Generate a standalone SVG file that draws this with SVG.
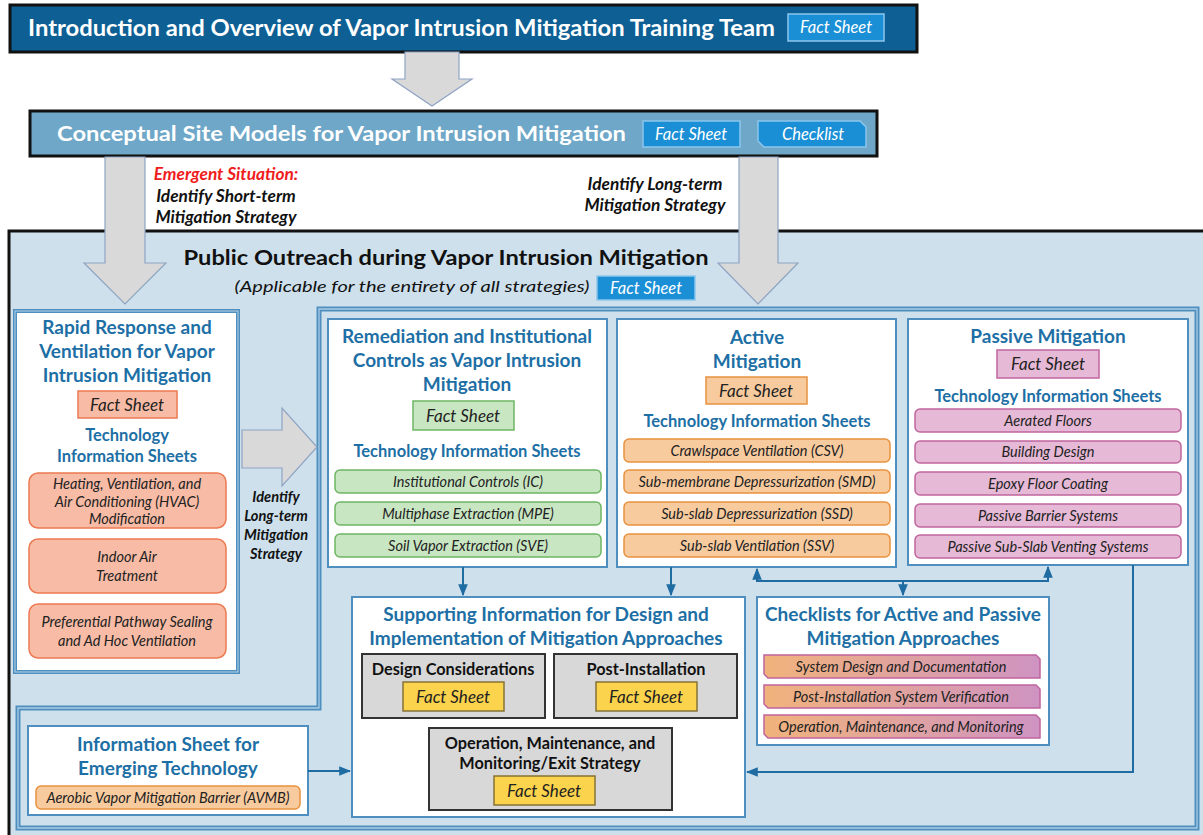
<svg xmlns="http://www.w3.org/2000/svg" width="1203" height="835" viewBox="0 0 1203 835">
<defs>
<style>
text{font-family:Lato,"Liberation Sans",sans-serif}
.hdr{font-weight:bold;fill:#fff}
.btn{fill:#1a8fd6;stroke:#8cc6ec;stroke-width:1.5}
.btnt{font-style:italic;fill:#fff;font-size:16.5px;text-anchor:middle}
.garrow{fill:#d9d9d9;stroke:#8fa3c3;stroke-width:1.2}
.lbl{font-weight:bold;font-style:italic;font-size:14.6px;fill:#111;text-anchor:middle}
.lbl2{font-weight:bold;font-style:italic;font-size:17.3px;fill:#111;text-anchor:middle}
.box{fill:#fff;stroke:#4f8fc0;stroke-width:2}
.ttl{font-weight:bold;fill:#1d6fa5;font-size:19px;text-anchor:middle}
.sub{font-weight:bold;fill:#1d6fa5;font-size:16.5px;text-anchor:middle}
.it{font-style:italic;fill:#222;font-size:14.5px;text-anchor:middle}
.fs{font-style:italic;fill:#222;font-size:17px;text-anchor:middle}
.red{fill:#f8bba5;stroke:#ec7a52;stroke-width:1.5}
.grn{fill:#c9e6c2;stroke:#6db664;stroke-width:1.5}
.org{fill:#f8cb9f;stroke:#e8923f;stroke-width:1.5}
.pnk{fill:#e6b9d6;stroke:#c0659f;stroke-width:1.5}
.gry{fill:#d8d8d8;stroke:#333;stroke-width:2}
.yel{fill:#fbd34c;stroke:#857335;stroke-width:1.5}
.gt{font-weight:bold;fill:#111;font-size:16.3px;text-anchor:middle}
.conn{fill:none;stroke:#1f6ca3;stroke-width:2}
</style>
<linearGradient id="cg" x1="0" x2="1" y1="0" y2="0">
<stop offset="0" stop-color="#f1b37b"/>
<stop offset="1" stop-color="#cf93c3"/>
</linearGradient>
<marker id="ah" viewBox="0 0 10 10" refX="9" refY="5" markerWidth="6" markerHeight="6" orient="auto-start-reverse">
<path d="M0,1 L10,5 L0,9 Z" fill="#1f6ca3"/>
</marker>
</defs>
<rect width="1203" height="835" fill="#fff"/>

<!-- big panel -->
<g id="public-outreach">
<rect x="9" y="231" width="1194" height="604" fill="#cde0ec"/>
<path d="M1203,231 H9 V835" fill="none" stroke="#111" stroke-width="3"/>
<text x="446" y="265" font-size="21" font-weight="bold" fill="#111" text-anchor="middle" textLength="525" lengthAdjust="spacingAndGlyphs">Public Outreach during Vapor Intrusion Mitigation</text>
<text x="412" y="292" font-size="16" font-style="italic" fill="#111" text-anchor="middle" textLength="355" lengthAdjust="spacingAndGlyphs">(Applicable for the entirety of all strategies)</text>
<rect class="btn" x="597" y="276" width="98" height="24"/>
<text class="btnt" x="646" y="294">Fact Sheet</text>
</g>

<!-- L-shaped inner container -->
<g id="container">
<path d="M319,309 H1197 V828 H18 V708 H319 Z" fill="none" stroke="#4f8fc0" stroke-width="5"/>
<path d="M319,309 H1197 V828 H18 V708 H319 Z" fill="none" stroke="#a9cbe2" stroke-width="1.3"/>
</g>

<!-- header 1 -->
<g id="intro">
<rect x="10" y="5" width="907" height="47" fill="#0d5f94" stroke="#111" stroke-width="3"/>
<text class="hdr" x="28" y="36" font-size="22" textLength="747" lengthAdjust="spacingAndGlyphs">Introduction and Overview of Vapor Intrusion Mitigation Training Team</text>
<rect class="btn" x="788" y="14" width="96" height="27"/>
<text class="btnt" x="836" y="33">Fact Sheet</text>
</g>

<!-- header 2 -->
<g id="csm">
<rect x="30" y="111" width="847" height="45" fill="#6ea7c7" stroke="#111" stroke-width="3"/>
<text class="hdr" x="57" y="141" font-size="21" textLength="569" lengthAdjust="spacingAndGlyphs">Conceptual Site Models for Vapor Intrusion Mitigation</text>
<rect class="btn" x="643" y="121" width="97" height="26"/>
<text class="btnt" x="691" y="140">Fact Sheet</text>
<path class="btn" d="M758,121 H860 L866,127 V147 H764 L758,141 Z"/>
<text class="btnt" x="813" y="140">Checklist</text>
</g>

<!-- gray arrows -->
<g id="big-arrows">
<polygon class="garrow" points="405,52 459,52 459,79 472,79 432,106 392,79 405,79"/>
<polygon class="garrow" points="105,157 145,157 145,263 166,263 125,304 84,263 105,263"/>
<polygon class="garrow" points="739,157 778,157 778,263 798,263 758,304 718,263 739,263"/>
<polygon class="garrow" points="242,430 282,430 282,408 317,447 282,486 282,468 242,468"/>
</g>

<g id="arrow-labels">
<text x="226" y="180" font-size="17.3" font-weight="bold" font-style="italic" fill="#f01c1c" text-anchor="middle">Emergent Situation:</text>
<text class="lbl2" x="226" y="202">Identify Short-term</text>
<text class="lbl2" x="226" y="223">Mitigation Strategy</text>
<text class="lbl2" x="655" y="190">Identify Long-term</text>
<text class="lbl2" x="655" y="211">Mitigation Strategy</text>
<text class="lbl" x="276" y="502">Identify</text>
<text class="lbl" x="276" y="521">Long-term</text>
<text class="lbl" x="276" y="540">Mitigation</text>
<text class="lbl" x="276" y="559">Strategy</text>
</g>

<!-- Rapid response -->
<g id="rapid">
<rect x="15" y="311" width="223" height="361" fill="#fff" stroke="#4f8fc0" stroke-width="4"/>
<rect x="15" y="311" width="223" height="361" fill="none" stroke="#b3d2e6" stroke-width="1"/>
<text class="ttl" x="127" y="334">Rapid Response and</text>
<text class="ttl" x="127" y="358">Ventilation for Vapor</text>
<text class="ttl" x="127" y="382">Intrusion Mitigation</text>
<rect class="red" x="78" y="391" width="99" height="27"/>
<text class="fs" x="127" y="411">Fact Sheet</text>
<text class="sub" x="127" y="441">Technology</text>
<text class="sub" x="127" y="462">Information Sheets</text>
<rect class="red" x="29" y="473" width="197" height="55" rx="9"/>
<text class="it" x="127" y="489">Heating, Ventilation, and</text>
<text class="it" x="127" y="507">Air Conditioning (HVAC)</text>
<text class="it" x="127" y="524">Modification</text>
<rect class="red" x="29" y="539" width="197" height="54" rx="9"/>
<text class="it" x="127" y="562">Indoor Air</text>
<text class="it" x="127" y="581">Treatment</text>
<rect class="red" x="29" y="604" width="197" height="54" rx="9"/>
<text class="it" x="127" y="627">Preferential Pathway Sealing</text>
<text class="it" x="127" y="646">and Ad Hoc Ventilation</text>
</g>

<!-- Remediation -->
<g id="remediation">
<rect class="box" x="328" y="319" width="279" height="248"/>
<text class="ttl" x="467" y="343">Remediation and Institutional</text>
<text class="ttl" x="467" y="367">Controls as Vapor Intrusion</text>
<text class="ttl" x="467" y="391">Mitigation</text>
<rect class="grn" x="413" y="401" width="101" height="29"/>
<text class="fs" x="463" y="422">Fact Sheet</text>
<text class="sub" x="467" y="457">Technology Information Sheets</text>
<rect class="grn" x="335" y="470" width="266" height="23" rx="5"/>
<text class="it" x="468" y="487">Institutional Controls (IC)</text>
<rect class="grn" x="335" y="502" width="266" height="23" rx="5"/>
<text class="it" x="468" y="519">Multiphase Extraction (MPE)</text>
<rect class="grn" x="335" y="534" width="266" height="23" rx="5"/>
<text class="it" x="468" y="551">Soil Vapor Extraction (SVE)</text>
</g>

<!-- Active -->
<g id="active">
<rect class="box" x="617" y="319" width="279" height="248"/>
<text class="ttl" x="757" y="344">Active</text>
<text class="ttl" x="757" y="368">Mitigation</text>
<rect class="org" x="706" y="377" width="101" height="27"/>
<text class="fs" x="756" y="397">Fact Sheet</text>
<text class="sub" x="757" y="427">Technology Information Sheets</text>
<rect class="org" x="624" y="439" width="266" height="23" rx="5"/>
<text class="it" x="757" y="456">Crawlspace Ventilation (CSV)</text>
<rect class="org" x="624" y="470" width="266" height="23" rx="5"/>
<text class="it" x="757" y="487">Sub-membrane Depressurization (SMD)</text>
<rect class="org" x="624" y="502" width="266" height="23" rx="5"/>
<text class="it" x="757" y="519">Sub-slab Depressurization (SSD)</text>
<rect class="org" x="624" y="534" width="266" height="23" rx="5"/>
<text class="it" x="757" y="551">Sub-slab Ventilation (SSV)</text>
</g>

<!-- Passive -->
<g id="passive">
<rect class="box" x="908" y="319" width="280" height="246"/>
<text class="ttl" x="1048" y="343">Passive Mitigation</text>
<rect class="pnk" x="997" y="350" width="102" height="28"/>
<text class="fs" x="1048" y="370">Fact Sheet</text>
<text class="sub" x="1048" y="402">Technology Information Sheets</text>
<rect class="pnk" x="915" y="409" width="266" height="23" rx="5"/>
<text class="it" x="1048" y="426">Aerated Floors</text>
<rect class="pnk" x="915" y="441" width="266" height="22" rx="5"/>
<text class="it" x="1048" y="457">Building Design</text>
<rect class="pnk" x="915" y="472" width="266" height="23" rx="5"/>
<text class="it" x="1048" y="489">Epoxy Floor Coating</text>
<rect class="pnk" x="915" y="504" width="266" height="23" rx="5"/>
<text class="it" x="1048" y="521">Passive Barrier Systems</text>
<rect class="pnk" x="915" y="535" width="266" height="23" rx="5"/>
<text class="it" x="1048" y="552">Passive Sub-Slab Venting Systems</text>
</g>

<!-- Supporting -->
<g id="supporting">
<rect class="box" x="352" y="597" width="393" height="220"/>
<text class="ttl" x="546" y="621">Supporting Information for Design and</text>
<text class="ttl" x="546" y="645">Implementation of Mitigation Approaches</text>
<rect class="gry" x="362" y="654" width="183" height="64"/>
<text class="gt" x="453" y="675">Design Considerations</text>
<rect class="yel" x="403" y="682" width="101" height="29"/>
<text class="fs" x="453" y="703">Fact Sheet</text>
<rect class="gry" x="554" y="654" width="183" height="64"/>
<text class="gt" x="646" y="675">Post-Installation</text>
<rect class="yel" x="596" y="682" width="101" height="29"/>
<text class="fs" x="646" y="703">Fact Sheet</text>
<rect class="gry" x="429" y="728" width="243" height="82"/>
<text class="gt" x="550" y="749">Operation, Maintenance, and</text>
<text class="gt" x="550" y="769">Monitoring/Exit Strategy</text>
<rect class="yel" x="494" y="776" width="101" height="29"/>
<text class="fs" x="544" y="797">Fact Sheet</text>
</g>

<!-- Checklists -->
<g id="checklists">
<rect class="box" x="757" y="597" width="292" height="148"/>
<text class="ttl" x="903" y="621">Checklists for Active and Passive</text>
<text class="ttl" x="903" y="645">Mitigation Approaches</text>
<path d="M764,655 H1036 L1040,659 V678 H768 L764,674 Z" fill="url(#cg)" stroke="#c0649f" stroke-width="1.5"/>
<text class="it" x="901" y="672">System Design and Documentation</text>
<path d="M764,685 H1036 L1040,689 V708 H768 L764,704 Z" fill="url(#cg)" stroke="#c0649f" stroke-width="1.5"/>
<text class="it" x="901" y="702">Post-Installation System Verification</text>
<path d="M764,715 H1036 L1040,719 V738 H768 L764,734 Z" fill="url(#cg)" stroke="#c0649f" stroke-width="1.5"/>
<text class="it" x="901" y="732">Operation, Maintenance, and Monitoring</text>
</g>

<!-- Emerging -->
<g id="emerging">
<rect class="box" x="28" y="726" width="280" height="89"/>
<text class="ttl" x="168" y="751">Information Sheet for</text>
<text class="ttl" x="168" y="775">Emerging Technology</text>
<rect class="org" x="36" y="786" width="264" height="23" rx="5"/>
<text class="it" x="168" y="803">Aerobic Vapor Mitigation Barrier (AVMB)</text>
</g>

<!-- connectors -->
<g id="connectors">
<path class="conn" d="M463,567 V595" marker-end="url(#ah)"/>
<path class="conn" d="M671,567 V595" marker-end="url(#ah)"/>
<path class="conn" d="M757,569 V581 H1048 V567" marker-start="url(#ah)" marker-end="url(#ah)"/>
<path class="conn" d="M903,581 V595" marker-end="url(#ah)"/>
<path class="conn" d="M1133,565 V772 H747" marker-end="url(#ah)"/>
<path class="conn" d="M308,771 H350" marker-end="url(#ah)"/>
</g>
</svg>
